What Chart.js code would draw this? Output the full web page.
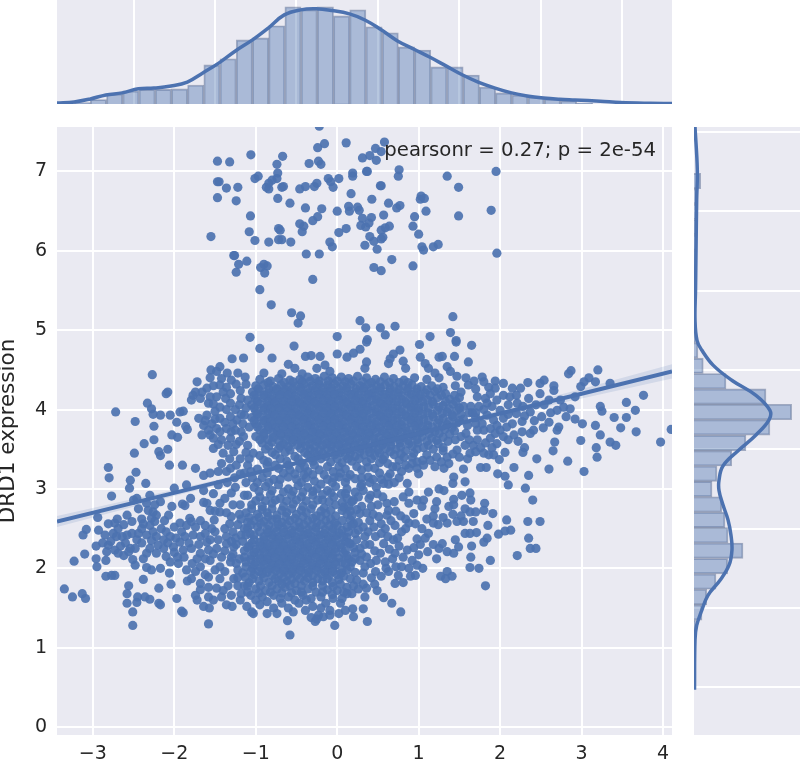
<!DOCTYPE html>
<html>
<head>
<meta charset="utf-8">
<style>
  html, body { margin: 0; padding: 0; background: #fff; }
  #wrap { position: relative; width: 800px; height: 764px; overflow: hidden; filter: blur(0.6px); }
  canvas { position: absolute; left: 0; top: 0; }
</style>
<script src="https://cdn.jsdelivr.net/npm/chart.js@4/dist/chart.umd.js"></script>
</head>
<body>
<div id="wrap">
  <canvas id="top" width="800" height="764"></canvas>
  <canvas id="side" width="800" height="764"></canvas>
  <canvas id="main" width="800" height="764"></canvas>
</div>
<script>
const xTicks = [-3, -2, -1, 0, 1, 2, 3, 4];
const yTicks = [0, 1, 2, 3, 4, 5, 6, 7];
const yLabel = 'DRD1 expression';
const statText = 'pearsonr = 0.27; p = 2e-54';

// top marginal
const topBins = [-3.13,-2.931,-2.732,-2.533,-2.334,-2.135,-1.936,-1.737,-1.538,-1.339,-1.14,-.941,-.742,-.543,-.344,-.145,.054,.253,.452,.651,.85,1.049,1.248,1.447,1.646,1.845,2.044,2.243,2.442,2.641,2.84,3.039];
const topHist = [.006,.018,.040,.052,.058,.058,.060,.075,.155,.179,.254,.262,.310,.385,.373,.385,.349,.373,.306,.282,.226,.214,.147,.147,.115,.067,.044,.036,.028,.020,.013,.004];
const topKdeX = [-3.44,-3.23,-3.03,-2.84,-2.64,-2.44,-2.25,-2.04,-1.84,-1.65,-1.45,-1.25,-1.04,-.85,-.65,-.45,-.26,-.06,.15,.34,.54,.74,.95,1.14,1.34,1.54,1.73,1.94,2.14,2.33,2.53,2.73,2.92,3.23,3.48,3.84,4.11];
const topKdeY = [.004,.008,.020,.036,.044,.060,.063,.071,.087,.123,.163,.210,.254,.300,.353,.373,.377,.370,.357,.333,.294,.250,.216,.185,.150,.115,.087,.063,.044,.032,.024,.019,.016,.011,.006,.003,.002];

// right marginal
const sideBins = [6.88,6.686,6.492,6.298,6.104,5.91,5.715,5.521,5.327,5.133,4.939,4.745,4.551,4.357,4.163,3.969,3.775,3.58,3.386,3.192,2.998,2.804,2.61,2.416,2.222,2.027,1.833,1.639,1.445,1.251];
const sideHist = [.053,.020,.020,.016,.020,.012,.008,.008,.008,.006,.012,.031,.073,.252,.567,.769,.598,.409,.297,.181,.142,.218,.244,.268,.386,.265,.173,.100,.063,.012];
const sideKdeY = [7.56,7.02,6.64,6.01,5.50,5.13,4.87,4.75,4.56,4.37,4.18,3.99,3.87,3.68,3.49,3.29,3.11,2.98,2.80,2.61,2.42,2.23,2.04,1.85,1.66,1.47,1.28,1.10,.47];
const sideKdeX = [.008,.026,.021,.016,.012,.008,.024,.061,.150,.297,.488,.598,.591,.488,.354,.228,.197,.197,.228,.268,.291,.299,.276,.205,.110,.061,.021,.008,.004];

// regression fit and its band
const fitX = [-3.44,-2,-1,0,1,2,3,4.11];
const fitY = [2.59,2.95,3.20,3.45,3.70,3.95,4.20,4.48];
const fitLow = [2.52,2.91,3.17,3.425,3.67,3.91,4.14,4.39];
const fitHigh = [2.66,2.99,3.23,3.475,3.73,3.99,4.26,4.57];

// points above the main mass
const upperCloud = [[-.22,7.57],[-.156,7.35],[-.24,7.30],[.11,7.36],[.58,7.37],[.47,7.29],[.54,7.25],[.40,7.20],[.31,7.17],[.48,7.14],[-1.06,7.21],[-1.47,7.13],[-1.32,7.12],[-.67,7.19],[-.74,7.09],[-.345,7.10],[-.23,7.13],[-.20,7.09],[-.73,6.98],[-.97,6.94],[-1.01,6.91],[-.74,6.91],[-.80,6.89],[-1.45,6.87],[-1.47,6.87],[-1.36,6.79],[-1.22,6.80],[-.84,6.85],[-.87,6.80],[-.84,6.78],[-.66,6.81],[-.68,6.80],[-.46,6.78],[-.39,6.81],[-.28,6.81],[-.25,6.85],[-.11,6.91],[-.08,6.87],[-.05,6.80],[.02,6.91],[.19,6.98],[.19,6.94],[.36,7.00],[.37,7.00],[.76,7.02],[.75,6.94],[1.35,6.94],[1.95,7.00],[.53,6.82],[.54,6.82],[1.49,6.80],[-1.47,6.67],[-1.24,6.63],[-.73,6.66],[-.58,6.60],[.17,6.72],[.425,6.65],[.63,6.60],[1.03,6.69],[1.02,6.65],[1.07,6.66],[.77,6.57],[.73,6.54],[-.39,6.54],[-.19,6.53],[0,6.50],[.14,6.56],[.15,6.50],[.25,6.55],[.27,6.51],[1.09,6.50],[1.89,6.51],[-1.065,6.44],[.57,6.45],[1.49,6.44],[.95,6.43],[-.24,6.43],[-.30,6.38],[.31,6.41],[.42,6.42],[.39,6.35],[-.46,6.34],[-.41,6.31],[.29,6.32],[.35,6.30],[.64,6.31],[.59,6.29],[.93,6.31],[-.72,6.28],[-.70,6.26],[-1.08,6.24],[-.43,6.24],[.02,6.23],[.11,6.28],[.54,6.26],[-1.55,6.18],[1.00,6.21],[.40,6.18],[.56,6.17],[.54,6.15],[-1.01,6.13],[-.84,6.11],[-.72,6.14],[-.68,6.14],[-.57,6.11],[-.09,6.11],[-.06,6.05],[.45,6.12],[.34,6.07],[.49,6.02],[1.04,6.05],[1.06,6.01],[1.18,6.05],[1.24,6.08],[-1.27,5.94],[-1.26,5.94],[-.38,5.96],[-.22,5.96],[1.96,5.97],[-1.11,5.87],[-1.21,5.83],[-1.24,5.73],[-.90,5.83],[-.86,5.81],[-.94,5.79],[-.89,5.72],[-.30,5.64],[.45,5.79],[.54,5.75],[.67,5.89],[.93,5.81],[-.95,5.51],[-.81,5.32],[-.56,5.22],[-.45,5.18],[-.48,5.09],[.28,5.12],[.35,5.03],[.53,5.03],[.71,5.05],[.59,4.94],[1.42,5.17],[1.39,4.97],[-1.07,4.91],[0,4.92],[.37,4.88],[1.14,4.92],[1.46,4.87]];

// left wing, both upper and lower clusters
const leftCloud = [[-2.27,4.44],[-2.08,4.22],[-2.10,4.20],[-2.72,3.97],[-2.33,4.08],[-2.28,4.01],[-2.26,3.94],[-2.17,3.93],[-2.05,3.93],[-2.48,3.85],[-1.97,3.84],[-2.25,3.79],[-1.93,3.97],[-1.89,3.98],[-1.86,3.79],[-1.84,3.75],[-2.03,3.68],[-1.96,3.65],[-2.25,3.62],[-2.37,3.57],[-2.08,3.50],[-2.19,3.47],[-2.17,3.42],[-2.49,3.45],[-2.06,3.30],[-1.90,3.30],[-1.74,3.26],[-2.81,3.27],[-2.80,3.14],[-2.47,3.21],[-2.54,3.11],[-2.35,3.07],[-2.55,3.01],[-2.77,2.91],[-1.64,3.17],[-1.56,3.20],[-1.42,3.32],[-2.0,3.01],[-1.85,3.05],[-1.80,2.88],[-1.64,2.98],[-1.52,2.94],[-2.50,2.86],[-2.46,2.88],[-2.17,2.84],[-2.03,2.78],[-1.90,2.81],[-1.87,2.79],[-1.64,2.83],[-1.60,2.82],[-1.38,2.88],[-1.56,2.73],[-1.19,2.80],[-2.58,2.67],[-2.94,2.64],[-2.81,2.56],[-2.52,2.59],[-2.38,2.56],[-2.44,2.75],[-2.32,2.73],[-2.26,2.71],[-2.22,2.67],[-2.28,2.63],[-2.24,2.59],[-2.30,2.54],[-2.07,2.67],[-1.93,2.57],[-1.81,2.63],[-1.79,2.59],[-1.85,2.54],[-1.62,2.54],[-1.51,2.61],[-1.50,2.46],[-1.38,2.50],[-1.44,2.71],[-3.08,2.49],[-3.12,2.42],[-2.93,2.48],[-2.85,2.42],[-2.73,2.57],[-2.69,2.50],[-2.75,2.44],[-2.71,2.40],[-2.58,2.42],[-2.52,2.44],[-2.44,2.44],[-2.34,2.42],[-2.26,2.46],[-2.22,2.40],[-2.13,2.36],[-2.05,2.40],[-1.91,2.46],[-1.87,2.40],[-1.77,2.42],[-1.68,2.40],[-1.60,2.33],[-2.96,2.28],[-2.81,2.29],[-2.83,2.21],[-2.73,2.23],[-2.69,2.19],[-2.54,2.25],[-2.48,2.25],[-2.56,2.21],[-2.34,2.19],[-2.30,2.25],[-2.20,2.29],[-2.13,2.25],[-2.22,2.19],[-2.01,2.27],[-1.93,2.33],[-1.89,2.23],[-1.79,2.25],[-1.68,2.19],[-1.58,2.23],[-1.48,2.25],[-1.36,2.31],[-1.27,2.27],[-3.10,2.18],[-3.23,2.09],[-2.96,2.12],[-2.95,2.02],[-2.84,2.10],[-2.51,2.11],[-2.48,2.04],[-2.34,2.01],[-2.28,1.98],[-2.17,2.00],[-2.05,2.08],[-1.95,2.06],[-1.85,1.98],[-1.68,2.02],[-1.56,2.10],[-1.44,2.02],[-1.31,2.08],[-2.84,1.90],[-2.77,1.91],[-2.73,1.91],[-2.38,1.86],[-1.79,1.87],[-1.58,1.89],[-1.44,1.87],[-1.27,1.87],[-1.13,1.89],[-1.68,1.81],[-3.35,1.74],[-3.25,1.64],[-3.13,1.68],[-3.09,1.62],[-2.56,1.78],[-2.58,1.68],[-2.19,1.75],[-2.04,1.80],[-2.45,1.64],[-2.36,1.64],[-2.30,1.61],[-2.58,1.56],[-2.46,1.57],[-2.19,1.56],[-2.17,1.54],[-1.97,1.62],[-2.51,1.45],[-1.91,1.46],[-1.89,1.44],[-2.51,1.28],[-1.58,1.30],[-1.74,1.66],[-1.72,1.60],[-1.64,1.52],[-1.57,1.50],[-1.52,1.60],[-1.42,1.64],[-1.48,1.75],[-1.68,1.73],[-1.55,4.50],[-1.44,4.54],[-1.29,4.64],[-1.15,4.65],[-1.72,4.35],[-1.60,4.27],[-1.77,4.18],[-1.68,4.14],[-1.74,4.22],[-1.79,4.12],[-1.48,4.48],[-1.42,4.39],[-1.30,4.37],[-1.13,4.41],[-1.44,4.31],[-1.31,4.20],[-1.48,4.16],[-1.58,4.08],[-1.44,4.03],[-1.70,3.89],[-1.60,3.93],[-1.31,4.08],[-1.19,4.24],[-1.64,3.80],[-1.54,3.82],[-1.58,3.74],[-1.48,3.76],[-1.66,3.68],[-1.44,3.89],[-1.31,3.91],[-1.36,3.76],[-1.23,3.87],[-1.25,3.74],[-1.52,3.64],[-1.42,3.62],[-1.31,3.64],[-1.15,3.66],[-1.52,3.51],[-1.40,3.45],[-1.27,3.47],[-1.19,3.38],[-1.03,3.45],[-1.31,3.26],[-1.19,3.19],[-1.12,4.02],[-1.14,3.93],[-1.10,4.12],[-1.08,3.78],[-1.20,3.60],[-1.10,3.55],[-1.37,4.14],[-1.25,4.00],[-1.50,3.98],[-1.10,3.30],[-1.35,3.08],[-1.25,3.02],[-1.12,3.08],[-1.30,2.65],[-1.22,2.55],[-1.18,2.42],[-1.25,2.38],[-1.14,2.22],[-1.20,2.12],[-1.12,2.02],[-1.22,1.98]];

// second pass over the left wing where the dots overlap
const wingFill = [[-1.66,4.22],[-1.52,4.30],[-1.56,4.40],[-1.35,4.46],[-1.22,4.46],[-1.36,4.28],[-1.24,4.32],[-1.12,4.32],[-1.56,4.16],[-1.40,4.22],[-1.18,4.14],[-1.52,4.07],[-1.36,4.00],[-1.20,4.06],[-1.62,3.86],[-1.50,3.88],[-1.38,3.84],[-1.18,3.94],[-1.28,3.82],[-1.16,3.82],[-1.56,3.68],[-1.44,3.72],[-1.30,3.72],[-1.18,3.72],[-1.46,3.56],[-1.34,3.55],[-1.24,3.56],[-1.12,3.46],[-1.32,3.38],[-1.24,3.30],[-1.46,3.22],[-1.36,3.22],[-1.14,3.20],[-1.26,3.14],[-1.04,3.14],[-1.46,3.05],[-1.30,2.95],[-1.14,2.92],[-1.44,2.82],[-1.28,2.80],[-1.50,2.72],[-1.36,2.70],[-1.20,2.68],
[-2.70,2.62],[-2.62,2.55],[-2.60,2.32],[-2.66,2.28],[-2.46,2.36],[-2.40,2.50],[-2.40,2.32],[-2.38,2.12],[-2.28,2.35],[-2.16,2.50],[-2.10,2.46],[-2.12,2.60],[-2.00,2.52],[-1.98,2.38],[-2.08,2.32],[-2.00,2.20],[-2.10,2.15],[-1.96,2.14],[-1.88,2.14],[-1.82,2.32],[-1.74,2.52],[-1.68,2.60],[-1.70,2.30],[-1.72,2.12],[-1.78,2.06],[-1.62,2.12],[-1.62,2.44],[-1.56,2.36],[-1.54,2.50],[-1.46,2.36],[-1.42,2.14],[-1.38,2.22],[-1.36,2.40],[-1.32,2.56],[-1.28,2.46],[-1.52,2.18],[-1.50,1.98],[-1.38,1.96],[-1.28,2.18],[-1.22,1.88],[-1.34,1.78],[-1.22,1.78],[-1.14,1.78],[-1.40,1.72],[-1.58,1.76],[-1.30,1.66],[-1.18,1.68],[-1.10,1.70],[-1.62,1.92],[-1.74,1.96],[-1.84,1.84],[-1.58,1.64],[-1.36,1.54],[-2.40,2.62],[-2.34,2.82],[-2.24,2.80],[-2.30,2.92],[-2.64,2.40],[-2.06,1.94],[-2.88,2.32],[-2.78,2.34],[-2.62,2.16]];

// dense mass around DRD1 = 4
const coreCloud = [
[-.90,4.46],[-.68,4.45],[-.60,4.57],[-.52,4.52],[-.43,4.45],[-.25,4.52],[-.15,4.56],[-.09,4.48],[-.95,4.77],[-.80,4.65],[-.53,4.80],[-.39,4.67],[-.32,4.68],[-.21,4.67],[0,4.70],
[-.95,4.38],[-.82,4.36],[-.72,4.39],[-.58,4.37],[-.46,4.38],[-.36,4.41],[-.27,4.39],[-.16,4.42],[-.06,4.40],[.05,4.41],[.14,4.39],[.25,4.42],[.36,4.40],[.47,4.38],[.58,4.41],[.69,4.39],[.82,4.37],[.95,4.40],[1.10,4.38],[1.25,4.40],
[-1.0,4.30],[-.90,4.31],[-.79,4.29],[-.69,4.31],[-.60,4.29],[-.50,4.30],[-.41,4.32],[-.31,4.30],[-.22,4.32],[-.12,4.31],[-.03,4.32],[.07,4.30],[.17,4.32],[.28,4.30],[.38,4.32],[.48,4.30],[.59,4.31],[.70,4.29],[.81,4.30],[.92,4.31],[1.03,4.29],[1.16,4.30],[1.30,4.28],[1.45,4.30],
[-1.04,4.22],[-.95,4.23],[-.85,4.21],[-.75,4.23],[-.65,4.22],[-.56,4.21],[-.46,4.23],[-.36,4.21],[-.27,4.23],[-.17,4.22],[-.08,4.23],[.02,4.21],[.12,4.23],[.22,4.22],[.33,4.23],[.43,4.21],[.53,4.23],[.64,4.22],[.75,4.21],[.86,4.23],[.97,4.22],[1.08,4.21],[1.20,4.23],[1.33,4.20],[1.52,4.22],
[-1.0,4.14],[-.90,4.15],[-.80,4.13],[-.71,4.15],[-.61,4.14],[-.51,4.13],[-.41,4.15],[-.32,4.13],[-.22,4.15],[-.12,4.14],[-.03,4.15],[.07,4.13],[.17,4.15],[.27,4.14],[.37,4.15],[.48,4.13],[.58,4.15],[.68,4.14],[.79,4.13],[.90,4.15],[1.00,4.14],[1.11,4.12],[1.23,4.15],[1.38,4.13],[1.50,4.15],
[-1.05,4.06],[-.95,4.07],[-.85,4.05],[-.76,4.07],[-.66,4.06],[-.56,4.05],[-.46,4.07],[-.37,4.05],[-.27,4.07],[-.17,4.06],[-.08,4.07],[.02,4.05],[.12,4.07],[.22,4.06],[.32,4.07],[.43,4.05],[.53,4.07],[.63,4.06],[.74,4.05],[.85,4.07],[.95,4.06],[1.06,4.04],[1.18,4.07],[1.30,4.05],[1.42,4.07],[1.55,4.04],
[-1.0,3.98],[-.90,3.99],[-.80,3.97],[-.71,3.99],[-.61,3.98],[-.51,3.97],[-.41,3.99],[-.32,3.97],[-.22,3.99],[-.12,3.98],[-.03,3.99],[.07,3.97],[.17,3.99],[.27,3.98],[.37,3.99],[.48,3.97],[.58,3.99],[.68,3.98],[.79,3.97],[.90,3.99],[1.00,3.98],[1.11,3.96],[1.23,3.99],[1.35,3.97],[1.47,3.99],[1.62,3.96],
[-1.05,3.90],[-.95,3.91],[-.85,3.89],[-.76,3.91],[-.66,3.90],[-.56,3.89],[-.46,3.91],[-.37,3.89],[-.27,3.91],[-.17,3.90],[-.08,3.91],[.02,3.89],[.12,3.91],[.22,3.90],[.32,3.91],[.43,3.89],[.53,3.91],[.63,3.90],[.74,3.89],[.85,3.91],[.95,3.90],[1.06,3.88],[1.18,3.91],[1.30,3.89],[1.42,3.91],[1.55,3.88],[1.70,3.90],
[-1.0,3.82],[-.90,3.83],[-.80,3.81],[-.71,3.83],[-.61,3.82],[-.51,3.81],[-.41,3.83],[-.32,3.81],[-.22,3.83],[-.12,3.82],[-.03,3.83],[.07,3.81],[.17,3.83],[.27,3.82],[.37,3.83],[.48,3.81],[.58,3.83],[.68,3.82],[.79,3.81],[.90,3.83],[1.00,3.82],[1.11,3.80],[1.23,3.83],[1.35,3.81],[1.47,3.83],[1.60,3.80],
[-.95,3.74],[-.85,3.75],[-.74,3.73],[-.64,3.75],[-.54,3.74],[-.45,3.73],[-.35,3.75],[-.26,3.73],[-.16,3.75],[-.06,3.74],[.04,3.75],[.14,3.73],[.24,3.75],[.34,3.74],[.44,3.75],[.55,3.73],[.65,3.75],[.75,3.74],[.86,3.73],[.97,3.75],[1.08,3.74],[1.20,3.72],[1.32,3.75],[1.44,3.73],[1.58,3.70],
[-1.0,3.66],[-.90,3.67],[-.78,3.65],[-.69,3.67],[-.59,3.66],[-.49,3.65],[-.39,3.67],[-.30,3.65],[-.20,3.67],[-.10,3.66],[0,3.67],[.10,3.65],[.20,3.67],[.30,3.66],[.40,3.67],[.51,3.65],[.61,3.67],[.71,3.66],[.82,3.65],[.93,3.67],[1.04,3.66],[1.16,3.64],[1.30,3.65],[1.45,3.62],
[-.92,3.58],[-.80,3.59],[-.66,3.57],[-.55,3.59],[-.44,3.58],[-.34,3.57],[-.24,3.59],[-.14,3.57],[-.05,3.59],[.05,3.58],[.15,3.59],[.25,3.57],[.35,3.59],[.46,3.58],[.56,3.57],[.66,3.59],[.77,3.58],[.88,3.57],[.99,3.58],[1.12,3.55],[1.24,3.57],
[-.88,3.50],[-.72,3.51],[-.58,3.49],[-.45,3.51],[-.33,3.50],[-.22,3.49],[-.12,3.51],[-.02,3.50],[.08,3.51],[.18,3.49],[.28,3.51],[.39,3.50],[.50,3.49],[.60,3.51],[.72,3.50],[.84,3.48],[.98,3.50],
[-.95,3.42],[-.76,3.43],[-.52,3.41],[-.36,3.43],[-.25,3.42],[-.14,3.41],[-.03,3.43],[.10,3.42],[.22,3.41],[.33,3.43],[.46,3.42],[.58,3.41],[.70,3.43],[.82,3.40],
[-.85,3.34],[-.62,3.35],[-.44,3.33],[-.30,3.35],[-.08,3.34],[.06,3.33],[.18,3.35],[.36,3.34],[.52,3.33],[.62,3.32]
];

// second pass over the core, sitting between the rows above
const coreFill = [
[-.85,4.34],[-.65,4.34],[-.54,4.35],[-.43,4.35],[-.33,4.36],[-.22,4.36],[-.11,4.36],[0,4.36],[.10,4.35],[.20,4.36],[.31,4.35],[.42,4.34],[.53,4.35],[.64,4.34],[.76,4.34],[.87,4.34],
[-.97,4.26],[-.84,4.26],[-.74,4.26],[-.64,4.25],[-.55,4.26],[-.45,4.27],[-.36,4.26],[-.26,4.27],[-.17,4.27],[-.07,4.27],[.02,4.26],[.12,4.27],[.23,4.26],[.33,4.27],[.43,4.26],[.53,4.27],[.65,4.26],[.76,4.25],[.87,4.26],[.98,4.26],[1.10,4.25],[1.23,4.26],
[-1.02,4.18],[-.90,4.18],[-.80,4.17],[-.70,4.18],[-.60,4.18],[-.51,4.17],[-.41,4.19],[-.31,4.17],[-.22,4.19],[-.12,4.18],[-.03,4.19],[.07,4.17],[.17,4.19],[.27,4.18],[.38,4.19],[.48,4.17],[.58,4.19],[.69,4.18],[.80,4.17],[.91,4.19],[1.02,4.18],[1.14,4.18],[1.28,4.18],[1.44,4.18],
[-.98,4.10],[-.85,4.10],[-.76,4.09],[-.66,4.10],[-.56,4.10],[-.46,4.09],[-.36,4.11],[-.27,4.09],[-.17,4.11],[-.07,4.10],[.02,4.11],[.12,4.09],[.22,4.11],[.32,4.10],[.42,4.11],[.53,4.09],[.63,4.11],[.73,4.10],[.84,4.09],[.95,4.11],[1.05,4.10],[1.17,4.10],[1.33,4.10],[1.46,4.10],
[-1.02,4.02],[-.90,4.02],[-.81,4.01],[-.71,4.02],[-.61,4.02],[-.51,4.01],[-.41,4.03],[-.32,4.01],[-.22,4.03],[-.12,4.02],[-.03,4.03],[.07,4.01],[.17,4.03],[.27,4.02],[.37,4.03],[.48,4.01],[.58,4.03],[.68,4.02],[.79,4.01],[.90,4.03],[1.00,4.02],[1.12,4.02],[1.25,4.03],[1.37,4.01],[1.50,4.02],[1.64,4.04],
[-.98,3.94],[-.85,3.94],[-.76,3.93],[-.66,3.94],[-.56,3.94],[-.46,3.93],[-.36,3.95],[-.27,3.93],[-.17,3.95],[-.07,3.94],[.02,3.95],[.12,3.93],[.22,3.95],[.32,3.94],[.42,3.95],[.53,3.93],[.63,3.95],[.73,3.94],[.84,3.93],[.95,3.95],[1.05,3.94],[1.17,3.94],[1.29,3.95],[1.41,3.93],[1.52,3.94],[1.66,3.96],
[-1.02,3.86],[-.90,3.86],[-.81,3.85],[-.71,3.86],[-.61,3.86],[-.51,3.85],[-.41,3.87],[-.32,3.85],[-.22,3.87],[-.12,3.86],[-.03,3.87],[.07,3.85],[.17,3.87],[.27,3.86],[.37,3.87],[.48,3.85],[.58,3.87],[.68,3.86],[.79,3.85],[.90,3.87],[1.00,3.86],[1.12,3.86],[1.25,3.87],[1.37,3.85],[1.50,3.86],
[-.98,3.78],[-.85,3.78],[-.75,3.77],[-.66,3.78],[-.56,3.78],[-.46,3.77],[-.36,3.79],[-.27,3.77],[-.17,3.79],[-.07,3.78],[.02,3.79],[.12,3.77],[.22,3.79],[.32,3.78],[.42,3.79],[.53,3.77],[.63,3.79],[.73,3.78],[.84,3.77],[.95,3.79],[1.05,3.78],[1.17,3.78],[1.29,3.79],[1.41,3.77],
[-.90,3.70],[-.79,3.70],[-.69,3.69],[-.59,3.70],[-.50,3.70],[-.40,3.69],[-.30,3.71],[-.21,3.69],[-.11,3.71],[-.01,3.70],[.09,3.71],[.19,3.69],[.29,3.71],[.39,3.70],[.49,3.71],[.60,3.69],[.70,3.71],[.80,3.70],[.91,3.69],[1.02,3.71],[1.13,3.70],[1.25,3.70],[1.38,3.69],[1.52,3.66],
[-.95,3.62],[-.85,3.62],[-.72,3.61],[-.62,3.62],[-.53,3.62],[-.44,3.61],[-.34,3.63],[-.25,3.61],[-.15,3.63],[-.05,3.62],[.05,3.63],[.15,3.61],[.25,3.63],[.35,3.62],[.45,3.63],[.56,3.61],[.66,3.63],[.76,3.62],[.87,3.61],[.98,3.62],[1.10,3.60],[1.22,3.61],[1.36,3.60],
[-.84,3.54],[-.70,3.54],[-.60,3.53],[-.49,3.55],[-.38,3.54],[-.28,3.53],[-.18,3.55],[-.08,3.54],[.02,3.55],[.12,3.53],[.22,3.55],[.33,3.54],[.44,3.53],[.55,3.55],[.66,3.54],[.78,3.53],[.92,3.54],[1.06,3.52],[1.18,3.50],[1.30,3.52],
[-.80,3.46],[-.64,3.46],[-.40,3.46],[-.28,3.46],[-.18,3.45],[-.07,3.47],[.04,3.46],[.16,3.45],[.28,3.47],[.40,3.46],[.52,3.45],[.65,3.47],[.78,3.44],[.94,3.45],
[-.70,3.38],[-.32,3.39],[-.20,3.38],[.00,3.38],[.13,3.38],[.27,3.38],[.42,3.38],[.56,3.37],[.76,3.36],[.84,3.30],[.68,3.28]
];

// lower mass around DRD1 = 2.3
const lowerCloud = [
[-.98,3.25],[-.72,3.26],[-.58,3.24],[-.46,3.26],[-.36,3.22],[-.22,3.24],[-.05,3.22],[.10,3.25],[.30,3.24],[.46,3.26],[.62,3.15],
[-.92,3.14],[-.78,3.12],[-.60,3.15],[-.50,3.12],[-.38,3.14],[-.28,3.10],[-.12,3.12],[.02,3.15],[.22,3.13],[.38,3.15],[.48,3.02],
[-1.02,3.02],[-.88,3.03],[-.72,3.05],[-.60,3.00],[-.48,3.04],[-.36,3.02],[-.25,3.00],[-.12,2.98],[-.02,3.03],[.12,3.00],[.22,2.96],[.32,2.98],
[-1.10,2.92],[-.95,2.90],[-.82,2.93],[-.70,2.88],[-.56,2.92],[-.44,2.90],[-.30,2.92],[-.18,2.86],[-.04,2.90],[.12,2.88],[.26,2.90],
[-1.05,2.80],[-.92,2.78],[-.80,2.82],[-.66,2.78],[-.54,2.81],[-.42,2.78],[-.30,2.80],[-.16,2.76],[-.02,2.80],[.14,2.78],[.24,2.74],
[-1.12,2.70],[-.98,2.68],[-.86,2.70],[-.74,2.67],[-.62,2.70],[-.50,2.68],[-.38,2.70],[-.26,2.66],[-.14,2.69],[-.02,2.66],[.12,2.68],
[-1.02,2.60],[-.90,2.59],[-.80,2.61],[-.68,2.58],[-.58,2.60],[-.47,2.58],[-.36,2.60],[-.25,2.58],[-.14,2.60],[-.03,2.57],[.20,2.56],
[-1.10,2.50],[-.98,2.52],[-.86,2.49],[-.76,2.51],[-.66,2.50],[-.56,2.48],[-.46,2.51],[-.36,2.49],[-.26,2.51],[-.15,2.49],[-.05,2.50],[.06,2.48],
[-1.02,2.42],[-.90,2.40],[-.80,2.42],[-.71,2.40],[-.61,2.42],[-.51,2.40],[-.41,2.42],[-.31,2.40],[-.21,2.42],[-.11,2.40],[-.01,2.41],[.12,2.39],
[-1.05,2.32],[-.95,2.33],[-.85,2.31],[-.76,2.33],[-.66,2.32],[-.56,2.31],[-.46,2.33],[-.36,2.31],[-.26,2.33],[-.16,2.31],[-.06,2.33],[.04,2.30],
[-1.0,2.24],[-.90,2.25],[-.80,2.23],[-.71,2.25],[-.61,2.24],[-.51,2.23],[-.41,2.25],[-.31,2.23],[-.21,2.25],[-.11,2.23],[-.02,2.25],[.10,2.22],
[-1.05,2.16],[-.95,2.17],[-.85,2.15],[-.76,2.17],[-.66,2.16],[-.56,2.15],[-.46,2.17],[-.36,2.15],[-.26,2.17],[-.16,2.15],[-.06,2.17],[.02,2.13],
[-1.0,2.08],[-.90,2.09],[-.80,2.07],[-.71,2.09],[-.61,2.08],[-.51,2.07],[-.41,2.09],[-.31,2.07],[-.21,2.09],[-.11,2.07],[-.02,2.08],
[-1.04,2.00],[-.94,2.01],[-.84,1.99],[-.75,2.01],[-.65,2.00],[-.55,1.99],[-.45,2.01],[-.35,1.99],[-.25,2.01],[-.15,1.99],[-.05,2.00],[.06,1.98],
[-1.02,1.92],[-.92,1.93],[-.80,1.91],[-.70,1.93],[-.60,1.92],[-.50,1.91],[-.40,1.93],[-.30,1.91],[-.20,1.93],[-.10,1.91],[0,1.92],
[-1.08,1.82],[-.96,1.84],[-.84,1.82],[-.72,1.84],[-.62,1.83],[-.52,1.81],[-.40,1.84],[-.30,1.82],[-.18,1.84],[-.06,1.82],[.04,1.80],
[-1.0,1.74],[-.88,1.72],[-.74,1.74],[-.64,1.76],[-.50,1.72],[-.36,1.74],[-.26,1.70],[-.12,1.73],[.0,1.72],
[-1.06,1.66],[-.92,1.64],[-.78,1.66],[-.60,1.64],[-.42,1.66],[-.32,1.62],[-.20,1.64],[-.05,1.62],
[-1.29,1.52],[-1.19,1.60],[-1.11,1.52],[-1.03,1.43],[-1.05,1.45],[-.95,1.54],[-.86,1.43],[-.78,1.50],[-.74,1.43],[-.61,1.34],[-.58,1.16],[-.54,1.45],[-.47,1.56],[-.39,1.47],[-.27,1.33],[-.23,1.41],[-.09,1.47],[-.03,1.28],[.02,1.43],[-.17,1.39],[-.09,1.41],[-.32,1.38],[-.25,1.36],[-.68,1.56],[-.30,1.52]
];

// second pass over the lower mass
const lowerFill = [
[-.86,3.30],[-.66,3.20],[-.52,3.19],[-.41,3.18],[-.30,3.18],[-.16,3.18],[.04,3.20],[.16,3.18],[-.70,3.12],[-.44,3.08],[-.20,3.06],[-.06,3.08],[.10,3.08],[.30,3.06],
[-.96,2.97],[-.80,2.98],[-.66,2.96],[-.54,2.97],[-.42,2.96],[-.30,2.97],[-.18,2.93],[-.08,2.95],[.05,2.94],[.18,2.84],
[-1.0,2.85],[-.88,2.85],[-.76,2.86],[-.62,2.85],[-.50,2.86],[-.38,2.85],[-.24,2.86],[-.10,2.84],[.06,2.83],
[-1.05,2.75],[-.92,2.74],[-.80,2.75],[-.68,2.73],[-.56,2.75],[-.44,2.73],[-.32,2.75],[-.20,2.72],[-.08,2.73],[.06,2.73],[.18,2.66],
[-1.08,2.64],[-.96,2.64],[-.85,2.65],[-.74,2.62],[-.63,2.65],[-.52,2.63],[-.42,2.65],[-.30,2.63],[-.20,2.65],[-.08,2.62],[.06,2.60],
[-1.06,2.55],[-.94,2.56],[-.84,2.54],[-.72,2.55],[-.62,2.55],[-.52,2.53],[-.41,2.55],[-.31,2.54],[-.20,2.55],[-.10,2.54],[0,2.54],[.12,2.52],
[-1.07,2.44],[-.95,2.46],[-.85,2.45],[-.75,2.46],[-.66,2.45],[-.56,2.44],[-.46,2.46],[-.36,2.44],[-.26,2.46],[-.16,2.44],[-.06,2.45],[.03,2.44],
[-1.02,2.36],[-.90,2.36],[-.80,2.37],[-.71,2.36],[-.61,2.37],[-.51,2.36],[-.41,2.37],[-.31,2.36],[-.21,2.37],[-.11,2.36],[-.01,2.36],[.10,2.34],
[-1.08,2.28],[-.95,2.28],[-.85,2.27],[-.76,2.29],[-.66,2.28],[-.56,2.27],[-.46,2.29],[-.36,2.27],[-.26,2.29],[-.16,2.27],[-.06,2.29],[.05,2.26],
[-1.02,2.20],[-.90,2.20],[-.80,2.19],[-.71,2.21],[-.61,2.20],[-.51,2.19],[-.41,2.21],[-.31,2.19],[-.21,2.21],[-.11,2.19],[-.02,2.20],
[-1.06,2.11],[-.95,2.12],[-.85,2.11],[-.76,2.13],[-.66,2.12],[-.56,2.11],[-.46,2.13],[-.36,2.11],[-.26,2.13],[-.16,2.11],[-.06,2.12],[.06,2.08],
[-1.02,2.04],[-.90,2.04],[-.80,2.03],[-.71,2.05],[-.61,2.04],[-.51,2.03],[-.41,2.05],[-.31,2.03],[-.21,2.05],[-.11,2.03],[-.02,2.04],
[-1.06,1.96],[-.96,1.96],[-.86,1.95],[-.75,1.97],[-.65,1.96],[-.55,1.95],[-.45,1.97],[-.35,1.95],[-.25,1.97],[-.15,1.95],[-.05,1.96],[.05,1.94],
[-1.04,1.87],[-.90,1.88],[-.76,1.87],[-.66,1.88],[-.56,1.86],[-.46,1.87],[-.36,1.88],[-.24,1.87],[-.12,1.87],[.02,1.86],
[-1.10,1.78],[-.94,1.78],[-.80,1.78],[-.68,1.80],[-.58,1.78],[-.44,1.78],[-.30,1.78],[-.18,1.78],[-.05,1.77],[.12,1.76],
[-.96,1.69],[-.82,1.70],[-.68,1.69],[-.56,1.69],[-.44,1.70],[-.18,1.70],[-.06,1.67],
[-1.0,1.60],[-.86,1.58],[-.70,1.62],[-.52,1.60],[-.38,1.60],[-.14,1.56],[-.60,1.50],[-.20,1.50]
];

// right side of both masses
const rightCloud = [[1.01,4.82],[1.46,4.85],[1.65,4.81],[.36,4.85],[1.44,4.67],[1.29,4.67],[1.25,4.66],[1.02,4.66],[1.61,4.60],[1.08,4.58],[1.12,4.52],[.77,4.75],[.69,4.70],[.65,4.64],[.63,4.58],[.81,4.61],[.84,4.52],[.28,4.76],[.20,4.71],[.12,4.66],[.36,4.60],[.34,4.52],[1.35,4.54],[1.39,4.48],[1.47,4.42],[1.20,4.46],[1.78,4.41],[1.80,4.35],[1.94,4.36],[2.04,4.33],[1.61,4.31],[1.72,4.16],[1.82,4.14],[1.84,4.08],[1.94,4.27],[2.04,4.18],[2.15,4.27],[2.25,4.27],[2.34,4.34],[2.35,4.14],[2.49,4.33],[2.54,4.37],[2.66,4.30],[2.66,4.24],[2.49,4.20],[2.54,4.06],[2.21,4.08],[2.10,4.06],[2.37,3.97],[2.0,3.99],[1.84,3.93],[1.92,3.87],[2.04,3.89],[2.15,3.82],[2.27,3.85],[2.41,3.74],[2.51,3.91],[2.53,3.77],[2.17,3.68],[2.27,3.72],[2.37,3.70],[2.0,3.74],[2.04,3.66],[1.88,3.64],[1.96,3.57],[1.80,3.74],[1.72,3.74],[2.70,3.99],[2.78,4.03],[2.86,4.01],[2.72,3.78],[2.70,3.74],[2.81,3.91],[2.92,3.88],[3.01,3.82],[2.67,3.59],[2.65,3.48],[2.99,3.61],[3.17,3.80],[3.23,3.68],[3.35,3.59],[3.42,3.55],[3.18,3.52],[3.19,3.40],[2.83,3.35],[3.03,3.22],[2.60,3.25],[2.45,3.38],[2.30,3.52],[2.28,3.46],[2.17,3.27],[2.35,3.17],[2.31,3.01],[2.40,2.86],[1.97,3.19],[2.06,3.16],[2.10,3.05],[2.87,4.49],[2.84,4.45],[3.20,4.50],[3.09,4.40],[3.03,4.35],[3.17,4.35],[2.99,4.29],[2.92,4.16],[3.35,4.33],[3.23,4.04],[3.25,3.98],[3.55,4.09],[3.76,4.18],[3.66,3.99],[3.40,3.90],[3.55,3.90],[3.48,3.77],[3.67,3.72],[3.97,3.59],[4.10,3.75],[1.55,3.25],[1.76,3.27],[1.83,3.27],[1.43,3.15],[1.42,3.07],[1.57,3.09],[1.80,3.45],[1.86,3.43],[1.92,3.43],[2.06,3.46],[1.99,3.37],[1.63,3.45],[1.70,3.47],[1.67,3.55],[1.57,3.55],[1.47,3.49],[1.35,3.40],[1.22,3.40],[1.10,3.43],[1.0,3.19],[.92,3.40],[.92,3.32],[1.06,3.30],[1.20,3.28],[1.31,3.26],[1.37,3.32],[.98,3.26],[.73,3.28],[.79,3.22],[.65,3.19],[.57,3.07],[.86,3.07],[.88,2.96],[.29,3.03],[.63,3.06],[1.25,3.00],[1.31,2.98],[1.12,2.96],[.81,2.90],[.88,2.82],[.98,2.86],[1.06,2.86],[1.04,2.78],[1.22,2.84],[1.20,2.75],[1.43,2.87],[1.53,2.92],[1.63,2.95],[1.64,2.86],[1.43,2.80],[1.37,2.78],[1.57,2.75],[1.63,2.71],[1.70,2.71],[1.81,2.82],[1.80,2.73],[1.91,2.69],[.94,2.69],[.61,2.82],[.63,2.73],[.41,2.92],[.49,2.94],[.39,2.88],[2.08,2.61],[2.34,2.59],[2.49,2.59],[1.85,2.54],[1.67,2.59],[1.55,2.59],[1.47,2.59],[1.35,2.57],[1.24,2.55],[1.18,2.57],[.88,2.57],[.84,2.50],[.71,2.54],[.79,2.46],[.61,2.67],[.51,2.65],[.45,2.52],[.59,2.50],[.47,2.40],[2.13,2.48],[2.06,2.47],[1.98,2.43],[2.35,2.38],[2.37,2.25],[2.44,2.25],[2.21,2.16],[1.88,2.10],[1.84,2.38],[1.80,2.33],[1.71,2.45],[1.63,2.44],[1.57,2.44],[1.65,2.28],[1.45,2.36],[1.49,2.27],[1.43,2.19],[1.35,2.21],[1.29,2.31],[1.25,2.25],[1.12,2.44],[1.08,2.38],[.98,2.37],[1.11,2.21],[1.22,2.12],[1.64,2.14],[1.63,2.01],[1.74,2.00],[1.82,1.78],[1.35,1.96],[1.27,1.90],[1.33,1.87],[1.41,1.90],[1.05,2.00],[.96,1.91],[.90,1.90],[1.0,2.17],[.92,2.10],[.81,2.14],[.79,2.02],[.86,2.23],[.69,2.36],[.57,2.31],[.53,2.19],[.71,2.19],[.59,2.08],[.47,1.96],[.63,1.96],[.81,1.82],[.71,1.81],[.75,1.91],[.49,1.72],[.57,1.63],[.67,1.56],[.78,1.45],[.37,1.33],[.20,1.39],[.19,1.49],[.32,1.49],[.10,1.47],[.34,1.64],[.36,1.75],[.04,1.56],[.08,1.70],[.24,1.85],[.16,1.87],[.32,1.94],[.41,2.06],[.28,2.10],[.16,2.02],[.08,2.19],[.28,2.25],[.16,2.31],[.26,2.48],[.08,2.40],[.16,2.61],[.08,2.77],[.28,2.69],[.20,2.86],[.10,2.94]];

// second pass over the right side
const rightFill = [[1.30,3.48],[1.42,3.44],[1.50,3.40],[1.60,3.38],[1.14,3.36],[1.28,3.34],[1.05,3.36],[.98,3.34],[.88,3.26],[.76,3.14],[.70,3.08],[1.72,3.62],[1.82,3.58],[1.90,3.52],[1.76,3.52],[1.62,3.62],[1.70,3.82],[1.78,3.82],[1.88,3.76],[1.94,3.70],[2.08,3.78],[1.96,3.80],[2.10,3.62],[2.22,3.60],[1.74,4.04],[1.70,3.96],[1.80,4.00],[1.90,4.04],[1.96,4.12],[1.88,4.20],[1.70,4.26],[1.58,4.40],[1.68,4.36],[1.86,4.28],[2.12,4.16],[2.20,4.18],[2.28,4.04],[2.44,4.06],[2.10,3.94],[2.20,3.95],[2.30,3.92],[2.42,3.86],[2.60,3.84],[2.62,3.96],[2.60,4.12],[2.74,4.12],
[.42,2.78],[.50,2.80],[.56,2.90],[.70,2.84],[.72,2.72],[.78,2.66],[.84,2.62],[.54,2.56],[.66,2.60],[.74,2.38],[.62,2.40],[.54,2.44],[.40,2.60],[.34,2.40],[.40,2.30],[.46,2.22],[.36,2.14],[.48,2.10],[.64,2.24],[.76,2.28],[.68,2.12],[.60,2.00],[.72,2.02],[.54,1.90],[.42,1.88],[.32,1.80],[.46,1.80],[.88,2.00],[.98,2.04],[.94,2.26],[1.02,2.30],[1.18,2.30],[1.04,2.50],[.96,2.56],[1.10,2.62],[1.18,2.66],[1.30,2.64],[1.42,2.68],[1.52,2.66],[.34,2.02],[.22,1.95],[.26,1.74],[.18,1.68],[.14,2.12],[.22,2.20],[.24,2.36],[.34,2.30]];

// the band between the two masses and the soft edges of the lower one
const bridgeCloud = [[-1.08,3.38],[-.90,3.36],[-.76,3.30],[-.60,3.30],[-.48,3.38],[-.40,3.28],[-.28,3.30],[-.12,3.28],[.02,3.28],[.24,3.28],[.38,3.27],[.52,3.20],[.44,3.12],[.30,3.14],[.12,3.14],[-.04,3.14],[-.86,3.20],[-1.06,3.22],[-.98,3.08],[-.84,3.08],[.40,3.08],[.54,3.12],
[-1.18,2.62],[-1.14,2.50],[-1.16,2.34],[-1.10,2.26],[-1.14,2.14],[-1.12,2.08],[-1.16,1.94],[-1.12,2.42],[-1.10,2.58],[-1.24,2.30],[-1.30,2.14],[-1.30,2.34],[-1.24,2.06],
[.14,2.46],[.18,2.54],[.22,2.44],[.14,2.32],[.20,2.26],[.12,2.16],[.18,2.08],[.10,2.06],[.12,1.98],[.08,1.90],[.22,2.12],[.30,2.18],[.26,2.58],[.32,2.52],[.38,2.46],[.16,2.72],[.30,2.78],[.36,2.70],[.44,2.68],[.20,1.78],[.12,1.68],[.06,1.62]];

const scatterPoints = [...upperCloud, ...leftCloud, ...wingFill, ...coreCloud, ...coreFill, ...lowerCloud, ...lowerFill, ...rightCloud, ...rightFill, ...bridgeCloud];

const blue = '#4c72b0';
const gridWhite = '#ffffff';
Chart.defaults.font.family = '"DejaVu Sans"';
Chart.defaults.color = '#262626';
Chart.defaults.animation = false;
Chart.defaults.responsive = false;
Chart.defaults.plugins.legend.display = false;
Chart.defaults.plugins.tooltip.enabled = false;

const panelBg = {
    id: 'panelBg',
    beforeDraw(chart) {
        const a = chart.chartArea;
        chart.ctx.save();
        chart.ctx.fillStyle = '#eaeaf2';
        chart.ctx.fillRect(a.left, a.top, a.right - a.left, a.bottom - a.top);
        chart.ctx.restore();
    }
};

const statNote = {
    id: 'statNote',
    afterDraw(chart) {
        const ctx = chart.ctx;
        ctx.save();
        ctx.font = '19.7px "DejaVu Sans"';
        ctx.fillStyle = '#262626';
        ctx.textAlign = 'right';
        ctx.textBaseline = 'middle';
        ctx.fillText(statText, chart.chartArea.right - 16, 151);
        ctx.restore();
    }
};

function minus(v) {
    return String(v).replace('-', '\u2212');
}

function gridAxis(min, max, ticks, size, horizontal) {
    return {
        type: 'linear', min: min, max: max, offset: false,
        border: {display: false},
        grid: {color: ticks ? gridWhite : 'transparent', lineWidth: 2, drawTicks: false},
        ticks: {display: false},
        afterBuildTicks(scale) { scale.ticks = (ticks || []).map(v => ({value: v})); },
        afterFit(scale) {
            if (horizontal) { scale.height = size; } else { scale.width = size; }
        }
    };
}

new Chart(document.getElementById('top'), {
    type: 'bar',
    plugins: [panelBg],
    data: {
        datasets: [
            {
                type: 'line',
                data: topKdeX.map((x, i) => ({x: x, y: topKdeY[i]})),
                borderColor: blue, borderWidth: 3.5, pointRadius: 0, tension: 0.4
            },
            {
                data: topBins.map((x, i) => ({x: x, y: topHist[i]})),
                backgroundColor: 'rgba(76,114,176,0.4)',
                borderColor: 'rgba(70,90,130,0.45)',
                borderWidth: 1.2,
                barPercentage: 1, categoryPercentage: 1
            }
        ]
    },
    options: {
        layout: {padding: {left: 57, right: 128, top: 0, bottom: 660}},
        scales: {
            x: gridAxis(-3.44, 4.11, xTicks, 0, true),
            y: gridAxis(0, 0.412, null, 0, false)
        }
    }
});

new Chart(document.getElementById('side'), {
    type: 'bar',
    plugins: [panelBg],
    data: {
        datasets: [
            {
                type: 'line',
                data: sideKdeY.map((y, i) => ({x: sideKdeX[i], y: y})),
                borderColor: blue, borderWidth: 3.5, pointRadius: 0, tension: 0.4
            },
            {
                data: sideBins.map((y, i) => ({x: sideHist[i], y: y})),
                backgroundColor: 'rgba(76,114,176,0.4)',
                borderColor: 'rgba(70,90,130,0.45)',
                borderWidth: 1.2,
                barPercentage: 1, categoryPercentage: 1
            }
        ]
    },
    options: {
        indexAxis: 'y',
        layout: {padding: {left: 694, right: 0, top: 127, bottom: 29}},
        scales: {
            x: gridAxis(0, 0.835, null, 0, true),
            y: gridAxis(-0.10, 7.56, yTicks, 0, false)
        }
    }
});

new Chart(document.getElementById('main'), {
    type: 'scatter',
    plugins: [panelBg, statNote],
    data: {
        datasets: [
            {
                data: fitX.map((x, i) => ({x: x, y: fitY[i]})),
                showLine: true, borderColor: blue, borderWidth: 4, pointRadius: 0
            },
            {
                data: fitX.map((x, i) => ({x: x, y: fitLow[i]})),
                showLine: true, borderWidth: 0, borderColor: 'transparent', pointRadius: 0
            },
            {
                data: fitX.map((x, i) => ({x: x, y: fitHigh[i]})),
                showLine: true, borderWidth: 0, borderColor: 'transparent', pointRadius: 0,
                fill: '-1', backgroundColor: 'rgba(76,114,176,0.15)'
            },
            {
                data: scatterPoints.map(p => ({x: p[0], y: p[1]})),
                pointRadius: 4.6, borderWidth: 0,
                backgroundColor: 'rgba(76,114,176,0.92)'
            }
        ]
    },
    options: {
        layout: {padding: {left: 0, right: 128, top: 127, bottom: 0}},
        scales: {
            x: {
                type: 'linear', min: -3.44, max: 4.11,
                border: {display: false},
                grid: {color: gridWhite, lineWidth: 2, drawTicks: false},
                ticks: {font: {size: 19}, padding: 8, maxRotation: 0, callback: minus},
                afterBuildTicks(scale) { scale.ticks = xTicks.map(v => ({value: v})); },
                afterFit(scale) { scale.height = 29; }
            },
            y: {
                type: 'linear', min: -0.10, max: 7.56,
                border: {display: false},
                grid: {color: gridWhite, lineWidth: 2, drawTicks: false},
                ticks: {font: {size: 19}, padding: 10, callback: minus},
                title: {display: true, text: yLabel, font: {size: 21.5}, padding: {top: -4, bottom: 0}},
                afterBuildTicks(scale) { scale.ticks = yTicks.map(v => ({value: v})); },
                afterFit(scale) { scale.width = 57; }
            }
        }
    }
});
</script>
</body>
</html>
